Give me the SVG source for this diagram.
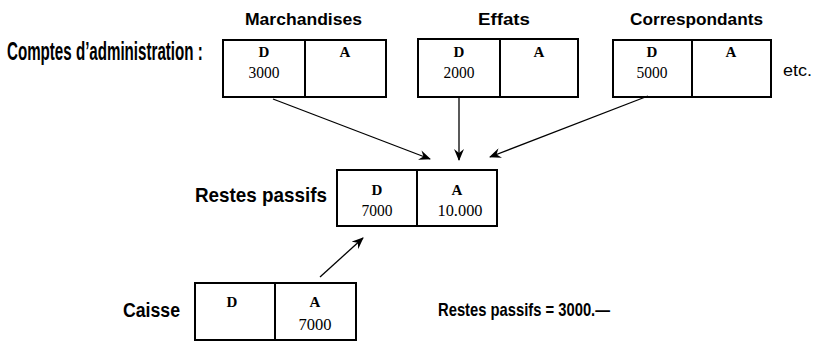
<svg xmlns="http://www.w3.org/2000/svg" width="814" height="341" viewBox="0 0 814 341">
<style>
.h{font-family:"Liberation Sans",Arial,sans-serif;font-weight:bold;fill:#000}
.r{font-weight:normal}
.da{font-family:"Liberation Serif","Times New Roman",serif;font-weight:bold;font-size:15px;fill:#000;text-anchor:middle}
.n{font-family:"Liberation Serif","Times New Roman",serif;font-size:16px;fill:#000;text-anchor:middle}
.b{fill:#fff;stroke:#000;stroke-width:2}
.d{stroke:#000;stroke-width:2}
.c{stroke:#000;stroke-width:1.3;fill:none;marker-end:url(#ar)}
</style>
<defs>
<marker id="ar" viewBox="0 0 12 10" refX="11" refY="5" markerWidth="12" markerHeight="10" markerUnits="userSpaceOnUse" orient="auto">
<path d="M0,0 L12,5 L0,10 L4,5 z" fill="#000"/>
</marker>
</defs>
<text class="h" transform="translate(7,60) scale(0.606,1)" x="0" y="0" font-size="25" textLength="323" lengthAdjust="spacingAndGlyphs">Comptes d’administration :</text>
<text class="h r" x="783" y="76" font-size="17" textLength="29" lengthAdjust="spacingAndGlyphs">etc.</text>
<g id="marchandises">
<text class="h" x="245" y="25" font-size="17" textLength="117" lengthAdjust="spacingAndGlyphs">Marchandises</text>
<rect class="b" x="223" y="40" width="163" height="57"/>
<line class="d" x1="305" y1="40" x2="305" y2="97"/>
<text class="da" x="264" y="57">D</text>
<text class="da" x="345" y="57">A</text>
<text class="n" x="264" y="78" textLength="31" lengthAdjust="spacingAndGlyphs">3000</text>
</g>
<g id="effats">
<text class="h" x="478" y="25" font-size="17" textLength="52" lengthAdjust="spacingAndGlyphs">Effats</text>
<rect class="b" x="418" y="39" width="160" height="58"/>
<line class="d" x1="500" y1="39" x2="500" y2="97"/>
<text class="da" x="459" y="57">D</text>
<text class="da" x="539" y="57">A</text>
<text class="n" x="459" y="78" textLength="31" lengthAdjust="spacingAndGlyphs">2000</text>
</g>
<g id="correspondants">
<text class="h" x="630" y="25" font-size="17" textLength="133" lengthAdjust="spacingAndGlyphs">Correspondants</text>
<rect class="b" x="613" y="40" width="158" height="57"/>
<line class="d" x1="692" y1="40" x2="692" y2="97"/>
<text class="da" x="652" y="57">D</text>
<text class="da" x="731" y="57">A</text>
<text class="n" x="652" y="78" textLength="31" lengthAdjust="spacingAndGlyphs">5000</text>
</g>
<g id="restes">
<text class="h" x="195" y="202" font-size="21" textLength="132" lengthAdjust="spacingAndGlyphs">Restes  passifs</text>
<rect class="b" x="337" y="170" width="160" height="56"/>
<line class="d" x1="417" y1="170" x2="417" y2="226"/>
<text class="da" x="377" y="195">D</text>
<text class="da" x="457" y="195">A</text>
<text class="n" x="377" y="216" font-size="18" textLength="31" lengthAdjust="spacingAndGlyphs">7000</text>
<text class="n" x="460" y="216" font-size="18" textLength="45" lengthAdjust="spacingAndGlyphs">10.000</text>
</g>
<g id="caisse">
<text class="h" x="123" y="317" font-size="20" textLength="57" lengthAdjust="spacingAndGlyphs">Caisse</text>
<rect class="b" x="195" y="283" width="161" height="57"/>
<line class="d" x1="275" y1="283" x2="275" y2="340"/>
<text class="da" x="232" y="307">D</text>
<text class="da" x="315" y="307">A</text>
<text class="n" x="315" y="330" textLength="33" lengthAdjust="spacingAndGlyphs">7000</text>
</g>
<text class="h" x="438" y="316" font-size="19" textLength="172" lengthAdjust="spacingAndGlyphs">Restes passifs = 3000.—</text>
<g id="connectors">
<line class="c" x1="273" y1="99" x2="430" y2="159"/>
<line class="c" x1="459" y1="98" x2="459" y2="160"/>
<line class="c" x1="648" y1="96" x2="490" y2="157"/>
<line class="c" x1="320" y1="277" x2="363" y2="238"/>
</g>
</svg>
